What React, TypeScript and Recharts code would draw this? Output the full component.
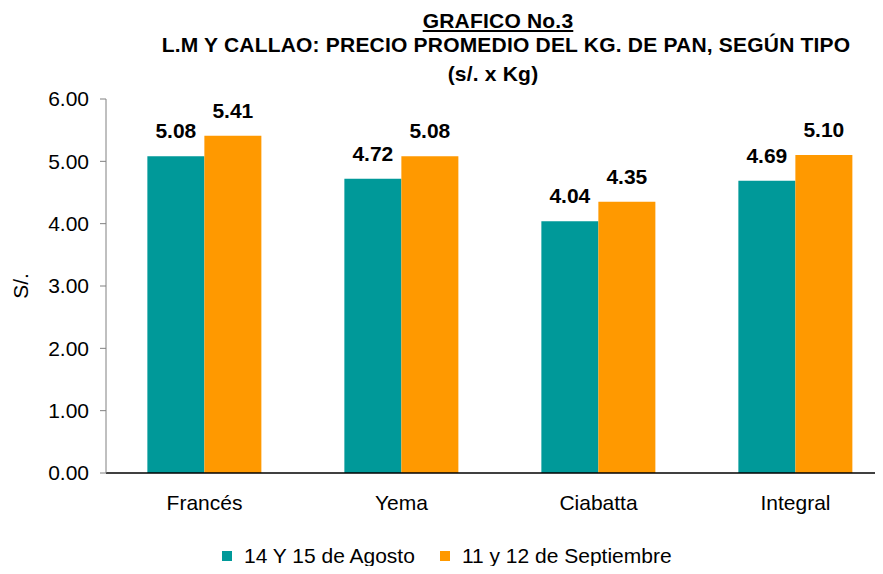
import React from "react";
import {
  BarChart,
  Bar,
  XAxis,
  YAxis,
  Legend,
  LabelList,
} from "recharts";

const categories = ["Francés", "Yema", "Ciabatta", "Integral"];
const agosto = [5.08, 4.72, 4.04, 4.69];
const septiembre = [5.41, 5.08, 4.35, 5.1];
const yTicks = [0, 1, 2, 3, 4, 5, 6];
const edgeTicks = [0, 1, 2, 3, 4];

const seriesNames = ["14 Y 15 de Agosto", "11 y 12 de Septiembre"];
const seriesColors = ["#009999", "#FF9900"];

const data = categories.map((name, i) => ({
  name,
  agosto: agosto[i],
  septiembre: septiembre[i],
}));

const font = "'Liberation Sans', Arial, sans-serif";
const fmt = (v: number) => Number(v).toFixed(2);

const LegendRow = (props: any) => {
  // keep the series order of the original legend
  const items = [...(props.payload || [])].sort(
    (a: any, b: any) => seriesNames.indexOf(a.value) - seriesNames.indexOf(b.value)
  );
  return (
    <div style={{ display: "flex", alignItems: "center", fontFamily: font, fontSize: 21, lineHeight: "22px", color: "#000" }}>
      {items.map((p: any, i: number) => (
        <div key={i} style={{ display: "flex", alignItems: "center", marginRight: 25 }}>
          <span style={{ width: 10, height: 10, background: p.color, display: "inline-block", marginRight: 12 }} />
          <span>{p.value}</span>
        </div>
      ))}
    </div>
  );
};

const titleLine = (text: string, center: number, top: number, underline = false) => (
  <div
    style={{
      position: "absolute",
      left: center - 400,
      width: 800,
      top,
      textAlign: "center",
      fontFamily: font,
      fontWeight: "bold",
      fontSize: 21,
      letterSpacing: 0.2,
      lineHeight: "20px",
      color: "#000",
      textDecoration: underline ? "underline" : "none",
      whiteSpace: "nowrap",
    }}
  >
    {text}
  </div>
);

export default function App() {
  return (
    <div style={{ width: 883, height: 574, margin: -8, overflow: "hidden", position: "relative", background: "#fff" }}>
      {titleLine("GRAFICO No.3", 498, 11, true)}
      {titleLine("L.M Y CALLAO: PRECIO PROMEDIO DEL KG. DE PAN, SEGÚN TIPO", 506, 35)}
      {titleLine("(s/. x Kg)", 493, 64)}
      <BarChart
        width={900}
        height={574}
        data={data}
        margin={{ top: 99, right: 6, bottom: 70, left: 0 }}
        barCategoryGap="21%"
        barGap={0}
        style={{ position: "absolute", left: 0, top: 0, fontFamily: font }}
      >
        <XAxis
          xAxisId="a"
          type="number"
          domain={[0, 4]}
          ticks={edgeTicks}
          height={1}
          tick={false}
          tickSize={6}
          axisLine={{ stroke: "#000", strokeWidth: 1.5 }}
          tickLine={{ stroke: "#555" }}
        />
        <XAxis
          xAxisId="b"
          dataKey="name"
          height={30}
          axisLine={false}
          tickLine={false}
          tickSize={6}
          tickMargin={15}
          tick={{ fill: "#000", fontSize: 21 }}
        />
        <YAxis
          width={106}
          domain={[0, 6]}
          ticks={yTicks}
          tickFormatter={fmt}
          tickSize={6}
          tickMargin={11}
          axisLine={{ stroke: "#808080" }}
          tickLine={{ stroke: "#808080" }}
          tick={{ fill: "#000", fontSize: 21 }}
          label={{ value: "S/.", angle: -90, position: "center", dx: -32, fill: "#000", fontSize: 21 }}
        />
        <Legend
          layout="vertical"
          align="center"
          verticalAlign="middle"
          content={<LegendRow />}
          wrapperStyle={{ left: 222, top: 545, width: "auto", height: "auto" }}
        />
        <Bar xAxisId="b" dataKey="agosto" name={seriesNames[0]} fill={seriesColors[0]} isAnimationActive={false}>
          <LabelList dataKey="agosto" position="top" offset={18} formatter={fmt} fill="#000" fontSize={21} fontWeight="bold" />
        </Bar>
        <Bar xAxisId="b" dataKey="septiembre" name={seriesNames[1]} fill={seriesColors[1]} isAnimationActive={false}>
          <LabelList dataKey="septiembre" position="top" offset={18} formatter={fmt} fill="#000" fontSize={21} fontWeight="bold" />
        </Bar>
      </BarChart>
    </div>
  );
}
